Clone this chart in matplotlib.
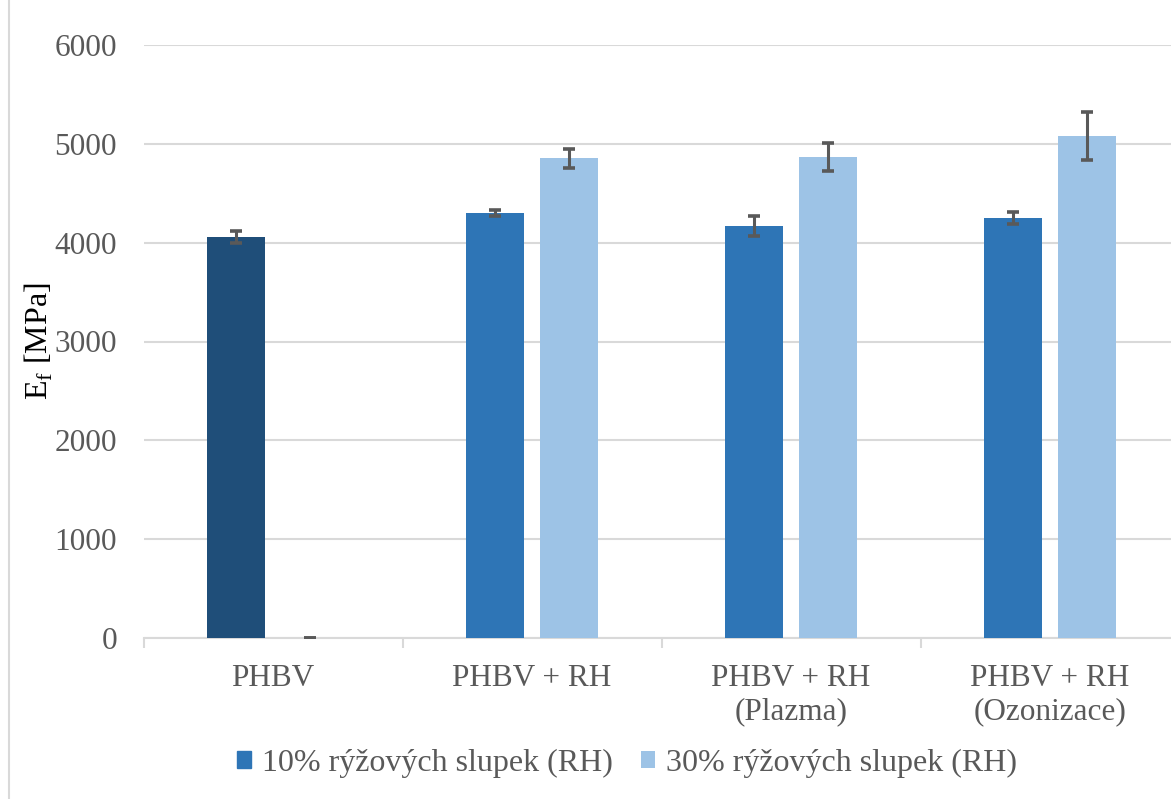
import matplotlib
matplotlib.use("Agg")
import matplotlib.pyplot as plt
import numpy as np

categories = ["PHBV", "PHBV + RH", "PHBV + RH\n(Plazma)", "PHBV + RH\n(Ozonizace)"]
series_names = ["10% rýžových slupek (RH)", "30% rýžových slupek (RH)"]
vals_10 = [4060, 4300, 4170, 4250]
err_10 = [60, 35, 100, 60]
vals_30 = [0, 4855, 4870, 5080]
err_30 = [0, 95, 140, 240]
yticks = [0, 1000, 2000, 3000, 4000, 5000, 6000]

plt.rcParams['font.family'] = ['Liberation Serif', 'DejaVu Serif']

W, H = 1171, 799
fig = plt.figure(figsize=(W / 100, H / 100), dpi=100)
ax = fig.add_axes([143.5 / W, (H - 638) / H, 1036 / W, 593 / H])

x = np.arange(len(categories))
bw = 0.227
off = 0.143
c10 = ["#1F4E79", "#2E75B6", "#2E75B6", "#2E75B6"]
c30 = "#9DC3E6"
ecol = "#595959"
fs = 22.5

ax.bar(x - off, vals_10, bw, color=c10, zorder=2, label=series_names[0])
ax.bar(x + off, vals_30, bw, color=c30, zorder=2, label=series_names[1])
ax.errorbar(x - off, vals_10, yerr=err_10, fmt='none', ecolor=ecol, elinewidth=2.2,
            capsize=4.5, capthick=2.6, zorder=3)
ax.errorbar(x + off, vals_30, yerr=err_30, fmt='none', ecolor=ecol, elinewidth=2.2,
            capsize=4.5, capthick=2.6, zorder=3)

ax.set_xlim(-0.5, len(categories) - 0.5)
ax.set_ylim(0, 6000)
ax.set_yticks(yticks)
ax.set_yticklabels([str(v) for v in yticks])
ax.grid(axis='y', color='#D9D9D9', linewidth=1.5, zorder=0)
ax.set_axisbelow(True)
for s in ['top', 'right', 'left']:
    ax.spines[s].set_visible(False)
ax.spines['bottom'].set_color('#D9D9D9')
ax.spines['bottom'].set_linewidth(1.5)
ax.spines['bottom'].set_zorder(1)

ax.set_xticks(x)
ax.set_xticklabels(categories, fontsize=fs, color='#595959', linespacing=1.17)
ax.tick_params(axis='x', length=0, pad=19)
ax.set_xticks(np.arange(len(categories) + 1) - 0.5, minor=True)
ax.tick_params(axis='x', which='minor', length=7, width=1.5, color='#D9D9D9')
ax.tick_params(axis='y', length=0, labelsize=fs, labelcolor='#595959', pad=19)

ax.set_ylabel(r"E$_\mathregular{f}$ [MPa]", fontsize=23, color='black', labelpad=0)

leg = fig.legend(handles=ax.patches[:1] + [ax.patches[len(categories) + 1]],
                 labels=series_names, loc='center', bbox_to_anchor=(627 / W, 1 - 763 / H),
                 ncol=2, frameon=False, fontsize=23, handlelength=0.45, handleheight=0.45,
                 handletextpad=0.35, columnspacing=0.85, labelcolor='#595959')
leg.legend_handles[0].set_color("#2E75B6")

# outer chart border (left edge visible)
fig.add_artist(plt.Line2D([8.5 / W, 8.5 / W], [0, 1], color='#D9D9D9', linewidth=1.5,
                          transform=fig.transFigure))

fig.savefig("out.png", dpi=100)
